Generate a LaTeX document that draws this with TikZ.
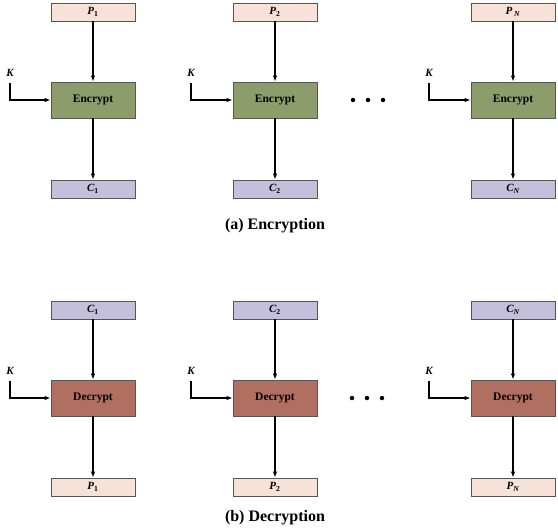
\documentclass[tikz,border=0pt]{standalone}
\usepackage{fontspec}
\setmainfont{Liberation Serif}
\usetikzlibrary{arrows.meta}
\definecolor{ptcol}{HTML}{F6E2D6}
\definecolor{ctcol}{HTML}{C4BFDA}
\definecolor{enccol}{HTML}{8C9C6B}
\definecolor{deccol}{HTML}{B06F61}
\definecolor{edgecol}{HTML}{555555}
\begin{document}
\begin{tikzpicture}[x=1pt, y=-1pt,
    block/.style={draw=edgecol, line width=0.8pt, minimum width=84pt, minimum height=18pt, inner sep=0pt, font=\fontsize{11}{12}\selectfont\bfseries\itshape},
    plain/.style={block, fill=ptcol},
    cipher/.style={block, fill=ctcol},
    enc/.style={block, fill=enccol, minimum height=36pt, font=\fontsize{11.5}{13}\selectfont\bfseries},
    dec/.style={block, fill=deccol, minimum height=36pt, font=\fontsize{11.5}{13}\selectfont\bfseries},
    key/.style={inner sep=0pt, font=\fontsize{11}{12}\selectfont\bfseries\itshape},
    flow/.style={line width=1.2pt, -{Latex[length=6pt, width=4.5pt]}},
    dot/.style={circle, fill=black, inner sep=0pt, minimum size=4.5pt},
    caption/.style={font=\fontsize{16}{18}\selectfont\bfseries}]
    \useasboundingbox (0,0) rectangle (558,531);
    % (a) Encryption: P_i -> Encrypt -> C_i
    \node[plain]  (p1) at (93, 12)  {P\textsubscript{\upshape 1}};
    \node[plain]  (p2) at (275,12)  {P\textsubscript{\upshape 2}};
    \node[plain]  (pn) at (513,12)  {P\,\textsubscript{N}};
    \node[enc]    (e1) at (93, 100) {Encrypt};
    \node[enc]    (e2) at (275,100) {Encrypt};
    \node[enc]    (en) at (513,100) {Encrypt};
    \node[cipher] (c1) at (93, 189) {C\textsubscript{\upshape 1}};
    \node[cipher] (c2) at (275,189) {C\textsubscript{\upshape 2}};
    \node[cipher] (cn) at (513,189) {C\textsubscript{N}};
    \node[key] (ke1) at (10, 73) {K};
    \node[key] (ke2) at (191,73) {K};
    \node[key] (ken) at (429,73) {K};
    \draw[flow] (p1) -- (e1);
    \draw[flow] (p2) -- (e2);
    \draw[flow] (pn) -- (en);
    \draw[flow] (e1) -- (c1);
    \draw[flow] (e2) -- (c2);
    \draw[flow] (en) -- (cn);
    \draw[flow] ([yshift=-6pt]ke1.south) |- (e1.west);
    \draw[flow] ([yshift=-6pt]ke2.south) |- (e2.west);
    \draw[flow] ([yshift=-6pt]ken.south) |- (en.west);
    \node[dot] (da1) at (353,100) {};
    \node[dot] (da2) at (368,100) {};
    \node[dot] (da3) at (383,100) {};
    \node[caption] (capa) at (275,226) {(a) Encryption};
    % (b) Decryption: C_i -> Decrypt -> P_i
    \node[cipher] (c1b) at (93, 310) {C\textsubscript{\upshape 1}};
    \node[cipher] (c2b) at (275,310) {C\textsubscript{\upshape 2}};
    \node[cipher] (cnb) at (513,310) {C\textsubscript{N}};
    \node[dec]    (d1) at (93, 398) {Decrypt};
    \node[dec]    (d2) at (275,398) {Decrypt};
    \node[dec]    (dn) at (513,398) {Decrypt};
    \node[plain]  (p1b) at (93, 487) {P\textsubscript{\upshape 1}};
    \node[plain]  (p2b) at (275,487) {P\textsubscript{\upshape 2}};
    \node[plain]  (pnb) at (513,487) {P\textsubscript{N}};
    \node[key] (kd1) at (10, 371) {K};
    \node[key] (kd2) at (191,371) {K};
    \node[key] (kdn) at (429,371) {K};
    \draw[flow] (c1b) -- (d1);
    \draw[flow] (c2b) -- (d2);
    \draw[flow] (cnb) -- (dn);
    \draw[flow] (d1) -- (p1b);
    \draw[flow] (d2) -- (p2b);
    \draw[flow] (dn) -- (pnb);
    \draw[flow] ([yshift=-6pt]kd1.south) |- (d1.west);
    \draw[flow] ([yshift=-6pt]kd2.south) |- (d2.west);
    \draw[flow] ([yshift=-6pt]kdn.south) |- (dn.west);
    \node[dot] (db1) at (352,398) {};
    \node[dot] (db2) at (367,398) {};
    \node[dot] (db3) at (382,398) {};
    \node[caption] (capb) at (275,518) {(b) Decryption};
\end{tikzpicture}
\end{document}
